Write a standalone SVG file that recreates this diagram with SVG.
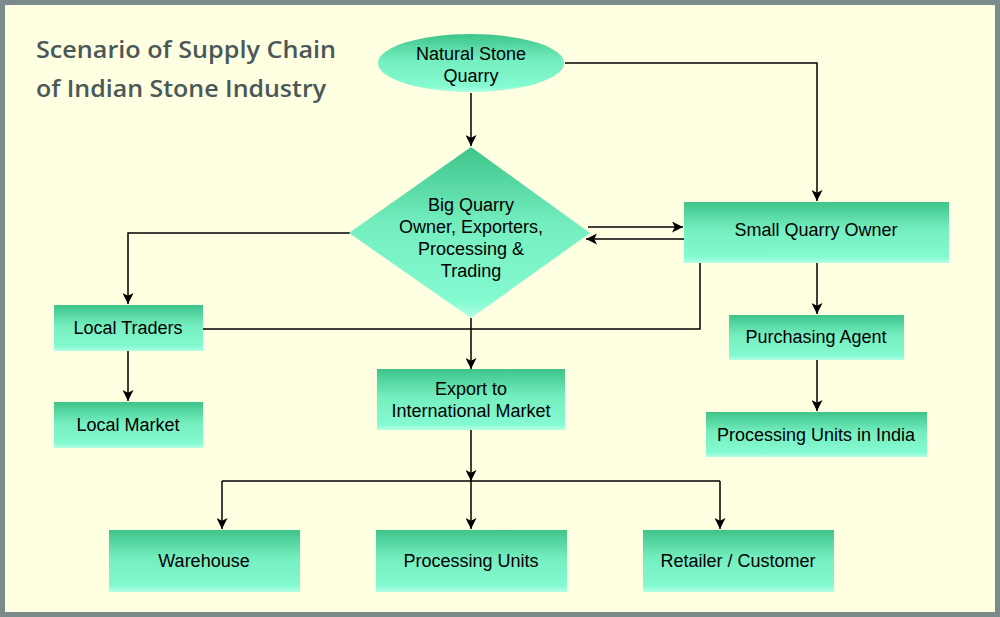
<svg xmlns="http://www.w3.org/2000/svg" width="1000" height="617" viewBox="0 0 1000 617">
<defs>
<linearGradient id="g" x1="0" y1="0" x2="0" y2="1">
<stop offset="0" stop-color="#3ec48a"/>
<stop offset="0.45" stop-color="#74eebf"/>
<stop offset="0.9" stop-color="#84fad0"/>
<stop offset="1" stop-color="#b4ffe6"/>
</linearGradient>
<marker id="ah" viewBox="0 0 10 10" refX="10" refY="5" markerWidth="11" markerHeight="11" markerUnits="userSpaceOnUse" orient="auto">
<path d="M0,0 L10,5 L0,10 L2.5,5 Z" fill="#000"/>
</marker>
<style>
.n{fill:url(#g);}
.t{font-family:"Liberation Sans",Arial,sans-serif;font-size:18px;fill:#000;text-anchor:middle;}
.c{fill:none;stroke:#000;stroke-width:1.5;}
.a{marker-end:url(#ah);}
.title{font-family:"Open Sans","Noto Sans",sans-serif;font-size:24px;font-weight:600;fill:#4b5858;}
</style>
</defs>
<rect x="0" y="0" width="1000" height="617" fill="#7b8b8b"/>
<rect x="5" y="5" width="990" height="607" fill="#ffffe1"/>
<g id="title">
<text class="title" x="36" y="58" textLength="300" lengthAdjust="spacingAndGlyphs">Scenario of Supply Chain</text>
<text class="title" x="36" y="97" textLength="290" lengthAdjust="spacingAndGlyphs">of Indian Stone Industry</text>
</g>
<g id="connectors">
<path class="c a" d="M471,93 V146"/>
<path class="c a" d="M565,63 H817 V201"/>
<path class="c a" d="M350,233 H128 V304"/>
<path class="c a" d="M588,227 H683"/>
<path class="c a" d="M684,239 H586"/>
<path class="c" d="M203,329 H700 V263"/>
<path class="c a" d="M128,351 V401"/>
<path class="c a" d="M471,318 V369"/>
<path class="c a" d="M471,430 V481"/>
<path class="c" d="M222,481 H720"/>
<path class="c a" d="M222,481 V529"/>
<path class="c a" d="M471,481 V529"/>
<path class="c a" d="M720,481 V529"/>
<path class="c a" d="M817,263 V314"/>
<path class="c a" d="M817,360 V411"/>
</g>
<g id="quarry">
<ellipse class="n" cx="471" cy="63" rx="93" ry="29"/>
<text class="t" x="471" y="60">Natural Stone</text>
<text class="t" x="471" y="82">Quarry</text>
</g>
<g id="big-quarry">
<path class="n" d="M471,147 L590,233 L471,318 L349,233 Z"/>
<text class="t" x="471" y="211">Big Quarry</text>
<text class="t" x="471" y="233">Owner, Exporters,</text>
<text class="t" x="471" y="255">Processing &amp;</text>
<text class="t" x="471" y="277">Trading</text>
</g>
<g id="small-quarry">
<rect class="n" x="684" y="202" width="265" height="61"/>
<text class="t" x="816" y="236">Small Quarry Owner</text>
</g>
<g id="local-traders">
<rect class="n" x="54" y="305" width="149" height="46"/>
<text class="t" x="128" y="334">Local Traders</text>
</g>
<g id="local-market">
<rect class="n" x="54" y="402" width="149" height="46"/>
<text class="t" x="128" y="431">Local Market</text>
</g>
<g id="purchasing-agent">
<rect class="n" x="729" y="315" width="175" height="45"/>
<text class="t" x="816" y="343">Purchasing Agent</text>
</g>
<g id="processing-india">
<rect class="n" x="706" y="412" width="221" height="45"/>
<text class="t" x="816" y="441">Processing Units in India</text>
</g>
<g id="export">
<rect class="n" x="377" y="369" width="188" height="61"/>
<text class="t" x="471" y="395">Export to</text>
<text class="t" x="471" y="417">International Market</text>
</g>
<g id="warehouse">
<rect class="n" x="109" y="530" width="191" height="62"/>
<text class="t" x="204" y="567">Warehouse</text>
</g>
<g id="processing-units">
<rect class="n" x="376" y="530" width="191" height="62"/>
<text class="t" x="471" y="567">Processing Units</text>
</g>
<g id="retailer">
<rect class="n" x="643" y="530" width="191" height="62"/>
<text class="t" x="738" y="567">Retailer / Customer</text>
</g>
</svg>
